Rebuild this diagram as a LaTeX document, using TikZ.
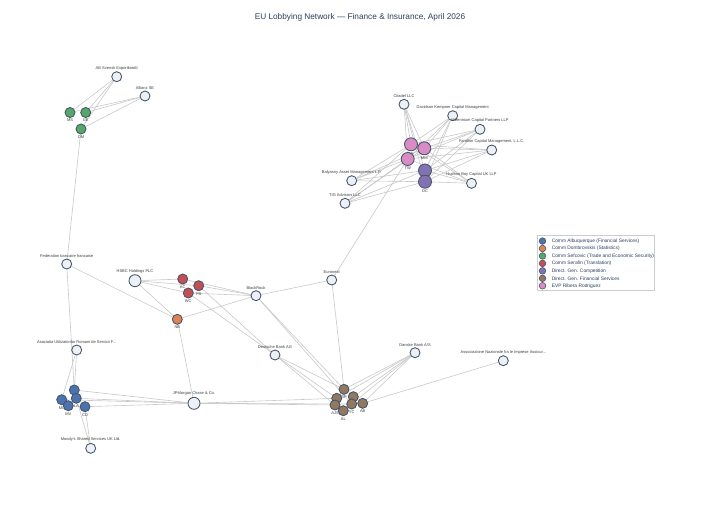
\documentclass[tikz,border=0pt]{standalone}
\usepackage{fontspec}
\setmainfont{Liberation Sans}
\usetikzlibrary{backgrounds}
\definecolor{netedge}{HTML}{C8C8C8}
\definecolor{netring}{HTML}{44546A}
\definecolor{netfill}{HTML}{EDF1F5}
\definecolor{netink}{HTML}{2A3F5F}
\definecolor{netlab}{HTML}{3C3C3C}
\definecolor{keyframe}{HTML}{CCCCCC}
\definecolor{grpblue}{HTML}{4C72B0}
\definecolor{grporange}{HTML}{DD8452}
\definecolor{grpgreen}{HTML}{55A868}
\definecolor{grpred}{HTML}{C44E52}
\definecolor{grppurple}{HTML}{8172B3}
\definecolor{grpbrown}{HTML}{937860}
\definecolor{grppink}{HTML}{DA8BC3}

\begin{document}
\begin{tikzpicture}[x=0.75pt, y=-0.75pt,
  font=\fontsize{3}{3.6}\selectfont,
  org/.style={circle, draw=netring, line width=0.65pt, fill=netfill, inner sep=0pt, minimum size=7.5pt},
  bigorg/.style={org, minimum size=9pt},
  member/.style={circle, draw=netring, line width=0.65pt, inner sep=0pt, minimum size=7.5pt},
  bigmember/.style={member, minimum size=9.75pt},
  lab/.style={text=netlab, inner sep=0.7pt},
  link/.style={draw=netedge, line width=0.45pt},
  keybox/.style={draw=keyframe, line width=0.4pt, fill=white, inner sep=0pt, minimum width=87.75pt, minimum height=40.9pt},
  keydot/.style={circle, draw=netring, line width=0.4pt, inner sep=0pt, minimum size=5pt},
  keytext/.style={font=\fontsize{3.65}{4.4}\selectfont, text=netink, anchor=west, inner sep=0pt}]
\useasboundingbox (0,0) rectangle (720,504);
\node[font=\fontsize{6.2}{7.5}\selectfont, text=netink] (title) at (360,17) {EU Lobbying Network — Finance \& Insurance, April 2026};
% top left group
\node[org, label={[lab]above:AB Svensk Exportkredit}] (abse) at (116.7,76.7) {};
\node[org, label={[lab]above:Allianz SE}] (allianz) at (145,96) {};
\node[member, fill=grpgreen, label={[lab]below:MS}] (ms) at (70,112.5) {};
\node[member, fill=grpgreen, label={[lab]below:GE}] (ge) at (85.7,112.5) {};
\node[member, fill=grpgreen, label={[lab]below:OM}] (om) at (81,129) {};
% hedge funds
\node[org, label={[lab]above:Citadel LLC}] (citadel) at (404,104.3) {};
\node[org, label={[lab]above:Davidson Kempner Capital Management}] (davidson) at (452.7,115.7) {};
\node[org, label={[lab]above:Millennium Capital Partners LLP}] (millennium) at (480,129.3) {};
\node[org, label={[lab]above:{Farallon Capital Management, L.L.C.}}] (farallon) at (491.7,150) {};
\node[org, label={[lab]above:Balyasny Asset Management L.P.}] (balyasny) at (351.7,180.7) {};
\node[org, label={[lab]above:Hudson Bay Capital UK LLP}] (hudson) at (471.5,183.3) {};
\node[org, label={[lab]above:TIG Advisors LLC}] (tig) at (345,203.3) {};
\node[bigmember, fill=grppink, label={[lab]below:TR}] (tr) at (411,144.3) {};
\node[bigmember, fill=grppink, label={[lab]below:MM}] (mm) at (424.3,148.3) {};
\node[bigmember, fill=grppink, label={[lab]below:TW}] (tw) at (407.7,159) {};
\node[bigmember, fill=grppurple, label={[lab]below:EO}] (eo) at (425,170.5) {};
\node[bigmember, fill=grppurple, label={[lab]below:DC}] (dc) at (425,181.7) {};
% middle
\node[org, label={[lab]above:Federation bancaire francaise}] (fbf) at (66.7,264) {};
\node[bigorg, label={[lab]above:HSBC Holdings PLC}] (hsbc) at (135,280.7) {};
\node[member, fill=grpred, label={[lab]below:AC}] (ac) at (182.7,279) {};
\node[member, fill=grpred, label={[lab]below:PS}] (ps) at (198.7,285.7) {};
\node[member, fill=grpred, label={[lab]below:WC}] (wc) at (188.3,293) {};
\node[member, fill=grporange, label={[lab]below:NB}] (nb) at (177.3,319.3) {};
\node[org, label={[lab]above:BlackRock}] (blackrock) at (256,295.7) {};
\node[org, label={[lab]above:Euronext}] (euronext) at (331.7,280) {};
\node[org, label={[lab]above:Deutsche Bank AG}] (deutsche) at (275,355) {};
\node[org, label={[lab]above:Danske Bank A/S}] (danske) at (415,352.7) {};
\node[org, label={[lab]above:Associazione Nazionale fra le Imprese Assicur...}] (ania) at (503.3,360.7) {};
% bottom left group
\node[org, label={[lab]above:Asociatia Utilizatorilor Romani de Servicii F...}] (auros) at (76.7,350) {};
\node[member, fill=grpblue] (ma) at (74.3,390) {};
\node[member, fill=grpblue, label={[lab]below:ML}] (ml) at (61.7,399.7) {};
\node[member, fill=grpblue, label={[lab]below:LA}] (la) at (76.3,398.3) {};
\node[member, fill=grpblue, label={[lab]below:MV}] (mv) at (68.3,405.7) {};
\node[member, fill=grpblue, label={[lab]below:CD}] (cd) at (85,406.7) {};
\node[bigorg, label={[lab]above:JPMorgan Chase \& Co.}] (jpm) at (194,403.3) {};
\node[org, label={[lab]above:Moody's Shared Services UK Ltd.}] (moodys) at (90.7,448.3) {};
% bottom right group
\node[member, fill=grpbrown, label={[lab]below:BP}] (bp) at (344,389.3) {};
\node[member, fill=grpbrown] (eh) at (336.7,398.3) {};
\node[member, fill=grpbrown] (jb) at (353.3,396.7) {};
\node[member, fill=grpbrown, label={[lab]below:AJS}] (ajs) at (335,405) {};
\node[member, fill=grpbrown, label={[lab]below:YC}] (yc) at (351.7,404) {};
\node[member, fill=grpbrown, label={[lab]below:AB}] (ab) at (362.7,403.3) {};
\node[member, fill=grpbrown, label={[lab]below:AL}] (al) at (343.3,410.7) {};
% legend
\node[keybox] (key) at (595.5,262.75) {};
\foreach \c/\t [count=\i] in {grpblue/{Comm Albuquerque (Financial Services)},
    grporange/{Comm Dombrovskis (Statistics)},
    grpgreen/{Comm Sefcovic (Trade and Economic Security)},
    grpred/{Comm Serafin (Translation)},
    grppurple/{Direct. Gen. Competition},
    grpbrown/{Direct. Gen. Financial Services},
    grppink/{EVP Ribera Rodriguez}} {
  \node[keydot, fill=\c] (key\i) at (542.5,{233.6+7.45*\i}) {};
  \node[keytext] (keytext\i) at (551.5,{233.6+7.45*\i}) {\t};
}
% links
\begin{scope}[on background layer]
\foreach \a/\b in {abse/ms, abse/ge, abse/om, allianz/ms, allianz/ge, allianz/om, om/fbf,
    euronext/tw, fbf/nb, fbf/ma, hsbc/ac, hsbc/ps, hsbc/wc, hsbc/nb,
    ac/blackrock, ps/blackrock, wc/blackrock, ps/deutsche, wc/deutsche,
    nb/blackrock, blackrock/euronext, nb/jpm, auros/ml, auros/ma,
    ma/jpm, ml/jpm, la/jpm, cd/jpm, moodys/la, moodys/cd,
    deutsche/bp, deutsche/eh, deutsche/ajs, blackrock/bp, blackrock/yc, euronext/bp,
    jpm/eh, jpm/ajs, jpm/yc, danske/bp, danske/eh, danske/jb, danske/yc, danske/ab, ania/ab}
  \draw[link] (\a) -- (\b);
\foreach \a in {citadel, davidson, millennium, farallon, balyasny, hudson, tig}
  \foreach \b in {tr, mm, tw, eo, dc}
    \draw[link] (\a) -- (\b);
\end{scope}
\end{tikzpicture}
\end{document}
